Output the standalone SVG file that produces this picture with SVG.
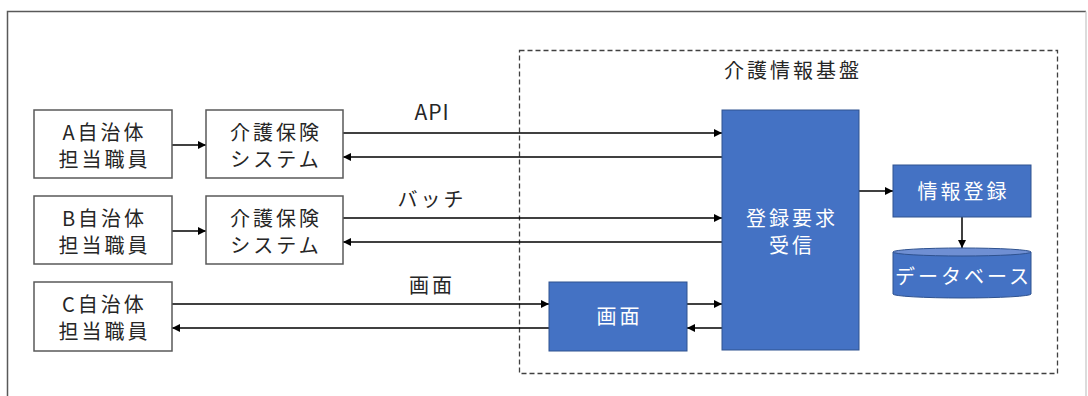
<svg xmlns="http://www.w3.org/2000/svg" width="1088" height="396" viewBox="0 0 1088 396">
  <defs>
    <marker id="arrow" viewBox="0 0 10 10" refX="10" refY="5" markerWidth="8" markerHeight="8" markerUnits="userSpaceOnUse" orient="auto">
      <path d="M0,0 L10,5 L0,10 z" fill="#000"/>
    </marker>
    <style>
      .txt { font-family: "Noto Sans CJK JP", "Noto Sans", sans-serif; font-size: 20px; letter-spacing: 3px; fill: #262626; text-anchor: middle; }
      .wtxt { font-family: "Noto Sans CJK JP", "Noto Sans", sans-serif; font-size: 20px; letter-spacing: 3px; fill: #ffffff; text-anchor: middle; }
      .latin { font-size: 21px; letter-spacing: 1px; }
      .wbox { fill: #ffffff; stroke: #595959; stroke-width: 1.5; }
      .bbox { fill: #4472c4; stroke: #2f528f; stroke-width: 1; }
      .conn { stroke: #000; stroke-width: 1.5; fill: none; }
      .arr { marker-end: url(#arrow); }
    </style>
  </defs>

  <rect width="1088" height="396" fill="#ffffff"/>

  <!-- outer frame -->
  <path d="M7.5,396 V11.5 H1086" fill="none" stroke="#595959" stroke-width="1.5"/>
  <line x1="1086" y1="11.5" x2="1086" y2="396" stroke="#d0d0d0" stroke-width="1.5"/>

  <!-- platform boundary -->
  <g id="platform">
    <rect x="519.5" y="50.5" width="538" height="323" fill="none" stroke="#404040" stroke-width="1.3" stroke-dasharray="5,3"/>
    <text class="txt" x="793" y="78">介護情報基盤</text>
  </g>

  <g id="connectors">
    <line class="conn arr" x1="172" y1="145" x2="206" y2="145"/>
    <line class="conn arr" x1="172" y1="231" x2="206" y2="231"/>
    <line class="conn arr" x1="343" y1="133" x2="722" y2="133"/>
    <line class="conn arr" x1="722" y1="157" x2="343" y2="157"/>
    <line class="conn arr" x1="343" y1="218" x2="722" y2="218"/>
    <line class="conn arr" x1="722" y1="242" x2="343" y2="242"/>
    <line class="conn arr" x1="172" y1="304" x2="549" y2="304"/>
    <line class="conn arr" x1="549" y1="328" x2="172" y2="328"/>
    <line class="conn arr" x1="687" y1="304" x2="722" y2="304"/>
    <line class="conn arr" x1="722" y1="328" x2="687" y2="328"/>
    <line class="conn arr" x1="859" y1="191" x2="893" y2="191"/>
    <line class="conn arr" x1="962" y1="217" x2="962" y2="248"/>
    <text class="txt latin" x="432" y="120">API</text>
    <text class="txt" x="432" y="207">バッチ</text>
    <text class="txt" x="432" y="293">画面</text>
  </g>

  <g id="staff-a">
    <rect class="wbox" x="34" y="110" width="138" height="68"/>
    <text class="txt" y="140"><tspan x="104.5">A自治体</tspan><tspan x="104.5" dy="27">担当職員</tspan></text>
  </g>
  <g id="system-a">
    <rect class="wbox" x="206" y="110" width="137" height="68"/>
    <text class="txt" y="140"><tspan x="276">介護保険</tspan><tspan x="276" dy="27">システム</tspan></text>
  </g>
  <g id="staff-b">
    <rect class="wbox" x="34" y="196" width="138" height="68"/>
    <text class="txt" y="226"><tspan x="104.5">B自治体</tspan><tspan x="104.5" dy="27">担当職員</tspan></text>
  </g>
  <g id="system-b">
    <rect class="wbox" x="206" y="196" width="137" height="68"/>
    <text class="txt" y="226"><tspan x="276">介護保険</tspan><tspan x="276" dy="27">システム</tspan></text>
  </g>
  <g id="staff-c">
    <rect class="wbox" x="34" y="282" width="138" height="69"/>
    <text class="txt" y="312"><tspan x="104.5">C自治体</tspan><tspan x="104.5" dy="27">担当職員</tspan></text>
  </g>

  <g id="screen">
    <rect class="bbox" x="549" y="282" width="138" height="69"/>
    <text class="wtxt" x="619.5" y="324">画面</text>
  </g>
  <g id="receiver">
    <rect class="bbox" x="722" y="110" width="137" height="240"/>
    <text class="wtxt" y="226"><tspan x="792">登録要求</tspan><tspan x="792" dy="27">受信</tspan></text>
  </g>
  <g id="register">
    <rect class="bbox" x="893" y="165" width="138" height="52"/>
    <text class="wtxt" x="963.5" y="199">情報登録</text>
  </g>
  <g id="database">
    <path d="M893,252 V294 A69,4 0 0 0 1031,294 V252" fill="#4472c4" stroke="#2f528f" stroke-width="1"/>
    <ellipse cx="962" cy="252" rx="69" ry="4" fill="#6f8fd3" stroke="#2f528f" stroke-width="1"/>
    <text class="wtxt" x="963.5" y="284">データベース</text>
  </g>
</svg>
